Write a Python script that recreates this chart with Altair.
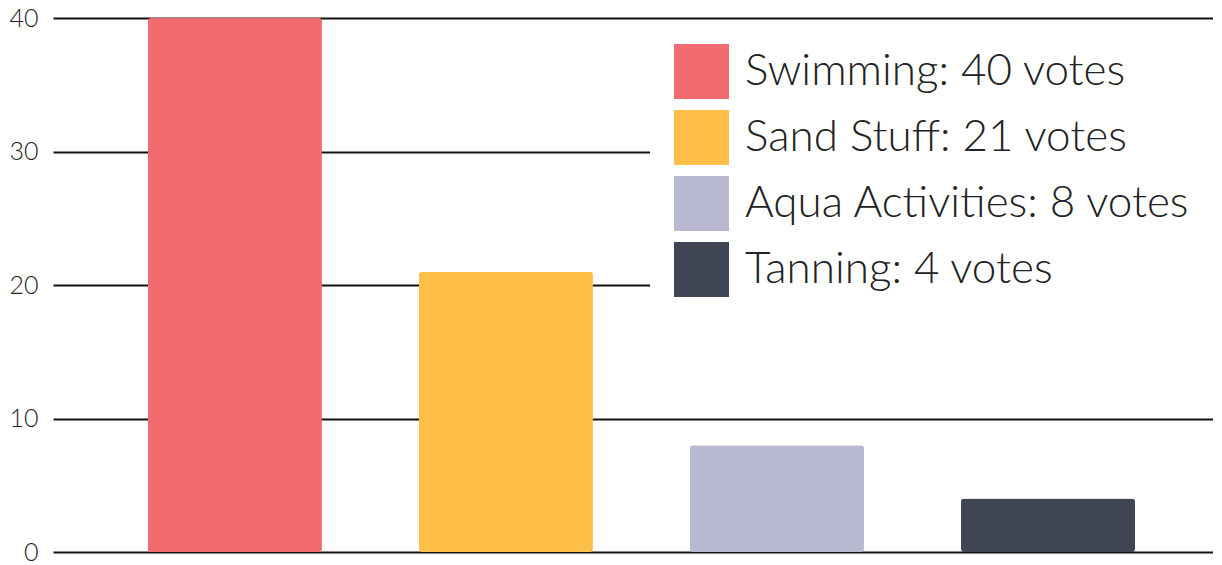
import altair as alt
import pandas as pd

categories = ["Swimming", "Sand Stuff", "Aqua Activities", "Tanning"]
votes = [40, 21, 8, 4]
colors = ["#F26B6E", "#FDBF47", "#B8B8D1", "#3F4555"]
y_ticks = [0, 10, 20, 30, 40]

df = pd.DataFrame({"category": categories, "votes": votes})
df["label"] = [f"{c}: {v} votes" for c, v in zip(categories, votes)]
labels = list(df["label"])

chart = alt.Chart(df).mark_bar(cornerRadius=3).encode(
    x=alt.X("category:N", sort=categories, axis=None,
            scale=alt.Scale(paddingInner=0.358, paddingOuter=0.319, align=0.549)),
    y=alt.Y("votes:Q", scale=alt.Scale(domain=[0, 40], nice=False),
            axis=alt.Axis(values=y_ticks, title=None, ticks=False, domain=False,
                          labelPadding=15, labelFontSize=25, labelFont="Lato",
                          labelFontWeight=300, labelColor="#222",
                          gridColor="#111", gridWidth=2)),
    color=alt.Color("label:N", sort=labels,
                    scale=alt.Scale(domain=labels, range=colors),
                    legend=alt.Legend(title=None, orient="none", legendX=597, legendY=2,
                                      symbolType="square", symbolSize=3025,
                                      symbolStrokeWidth=0, symbolOpacity=1,
                                      labelFontSize=44, labelFont="Lato",
                                      labelFontWeight=300, labelColor="#222",
                                      labelOffset=16, rowPadding=11,
                                      labelLimit=900, padding=24,
                                      fillColor="white")),
).properties(
    width=1160, height=534,
    autosize=alt.AutoSizeParams(type="none"),
    padding={"left": 45, "top": 10, "right": 0, "bottom": 12},
).configure_view(stroke=None)

chart.save("out.html", embed_options={"renderer": "svg", "actions": False})
